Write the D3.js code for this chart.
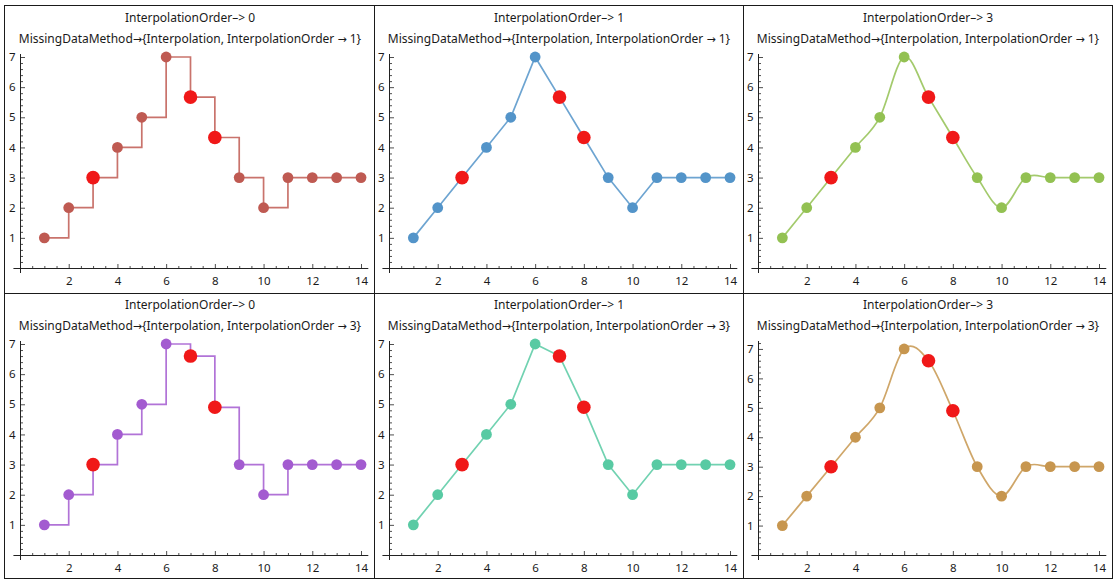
<!DOCTYPE html>
<html>
<head>
<meta charset="utf-8">
<script src="https://cdn.jsdelivr.net/npm/d3@7"></script>
<style>
  html, body { margin: 0; padding: 0; background: #fff; }
  svg { display: block; }
  text { font-family: "Segoe UI", "Noto Sans", "Open Sans", sans-serif; }
</style>
</head>
<body>
<svg id="chart" width="1120" height="585"></svg>
<script>
// ---- data ----
const xValues = [1, 2, 3, 4, 5, 6, 7, 8, 9, 10, 11, 12, 13, 14];
const filledOrder1 = [1, 2, 3, 4, 5, 7, 5.67, 4.33, 3, 2, 3, 3, 3, 3];
const filledOrder3 = [1, 2, 3, 4, 5, 7, 6.6, 4.9, 3, 2, 3, 3, 3, 3];
const missingX = [3, 7, 8];
const plotOrders = [0, 1, 3];
const missingOrders = [1, 3];
const xTickLabels = [2, 4, 6, 8, 10, 12, 14];
const yTickLabels = [1, 2, 3, 4, 5, 6, 7];
const panelColors = ["#bf5a52", "#5394c9", "#93c152", "#a35bd0", "#58caa3", "#c7964f"];
const yAxisMax = [7.1, 7.1, 7.1, 7.1, 7.1, 7.27];

// ---- layout ----
const svg = d3.select("#chart");
const colX = [4, 374, 743, 1112];
const rowY = [5, 293, 578];

// frame
const frame = svg.append("g").attr("stroke", "#1a1a1a").attr("stroke-width", 1).attr("fill", "none");
frame.append("rect").attr("x", colX[0] + 0.5).attr("y", rowY[0] + 0.5)
  .attr("width", colX[3] - colX[0]).attr("height", rowY[2] - rowY[0]);
[colX[1], colX[2]].forEach(x => frame.append("line").attr("x1", x + 0.5).attr("x2", x + 0.5).attr("y1", rowY[0]).attr("y2", rowY[2]));
frame.append("line").attr("x1", colX[0]).attr("x2", colX[3]).attr("y1", rowY[1] + 0.5).attr("y2", rowY[1] + 0.5);

const colOffsets = [0, 369, 738];
const rowOffsets = [0, 287];

function richText(sel, str) {
  const parts = str.split(/(→)/);
  parts.forEach(p => {
    if (!p) return;
    const t = sel.append("tspan").text(p);
    if (p === "→") t.attr("font-family", "\"DejaVu Sans\", sans-serif").attr("font-size", 11);
  });
}

missingOrders.forEach((mo, r) => {
  const data = (mo === 1 ? filledOrder1 : filledOrder3);
  plotOrders.forEach((po, c) => {
    const idx = r * 3 + c;
    const color = panelColors[idx];
    const ox = colOffsets[c], oy = rowOffsets[r];
    const g = svg.append("g").attr("transform", `translate(${ox},${oy})`);

    const axisY = 268, topY = 54;
    const x = d3.scaleLinear().domain([0, 14]).range([20, 361]);
    const y = d3.scaleLinear().domain([0, yAxisMax[idx]]).range([axisY, topY]);

    // titles
    g.append("text").attr("x", 190).attr("y", 22).attr("text-anchor", "middle")
      .attr("font-size", 12).attr("fill", "#1a1a1a")
      .text(`InterpolationOrder–> ${po}`);
    g.append("text").attr("x", 190).attr("y", 43).attr("text-anchor", "middle")
      .attr("font-size", 12).attr("fill", "#1a1a1a")
      .call(richText, `MissingDataMethod→{Interpolation, InterpolationOrder → ${mo}}`);

    // axes lines
    g.append("line").attr("x1", x(-0.27)).attr("x2", x(14.3))
      .attr("y1", axisY + 0.5).attr("y2", axisY + 0.5).attr("stroke", "#222");
    g.append("line").attr("x1", x(0) + 0.5).attr("x2", x(0) + 0.5)
      .attr("y1", y(yAxisMax[idx])).attr("y2", axisY + 5).attr("stroke", "#222");

    // minor ticks
    const xMinor = d3.range(0.5, 14.3, 0.5).filter(v => v % 2 !== 0);
    const yMinor = d3.range(0.2, yAxisMax[idx], 0.2).filter(v => Math.abs(v - Math.round(v)) > 1e-6);
    const gxm = g.append("g").attr("transform", `translate(0,${axisY + 0.5})`)
      .call(d3.axisBottom(x).tickValues(xMinor).tickSize(-2.5).tickFormat(""));
    const gym = g.append("g").attr("transform", `translate(${x(0) + 0.5},0)`)
      .call(d3.axisLeft(y).tickValues(yMinor).tickSize(-2.5).tickFormat(""));
    // major ticks + labels
    const gx = g.append("g").attr("transform", `translate(0,${axisY + 0.5})`)
      .call(d3.axisBottom(x).tickValues(xTickLabels).tickSize(-4.5).tickPadding(8).tickFormat(d3.format("d")));
    const gy = g.append("g").attr("transform", `translate(${x(0) + 0.5},0)`)
      .call(d3.axisLeft(y).tickValues(yTickLabels).tickSize(-4.5).tickPadding(5).tickFormat(d3.format("d")));
    [gxm, gym, gx, gy].forEach(a => {
      a.select(".domain").remove();
      a.selectAll(".tick line").attr("stroke", "#222").attr("stroke-width", 0.8);
      a.selectAll(".tick text").attr("font-size", 11.5).attr("fill", "#1a1a1a")
        .attr("font-family", "\"Segoe UI\", \"Noto Sans\", \"Open Sans\", sans-serif");
    });

    // line
    const pts = xValues.map((xv, i) => [xv, data[i]]);
    const curve = po === 0 ? d3.curveStepAfter : (po === 1 ? d3.curveLinear : d3.curveCatmullRom.alpha(0));
    const line = d3.line().x(d => x(d[0])).y(d => y(d[1])).curve(curve);
    g.append("path").datum(pts).attr("d", line).attr("fill", "none")
      .attr("stroke", color).attr("stroke-width", 1.7).attr("stroke-opacity", 0.85);

    // points
    g.append("g").selectAll("circle").data(pts.filter(p => !missingX.includes(p[0]))).join("circle")
      .attr("cx", d => x(d[0])).attr("cy", d => y(d[1])).attr("r", 5.4).attr("fill", color);
    g.append("g").selectAll("circle").data(pts.filter(p => missingX.includes(p[0]))).join("circle")
      .attr("cx", d => x(d[0])).attr("cy", d => y(d[1])).attr("r", 6.8).attr("fill", "#f01818");
  });
});
</script>
</body>
</html>
